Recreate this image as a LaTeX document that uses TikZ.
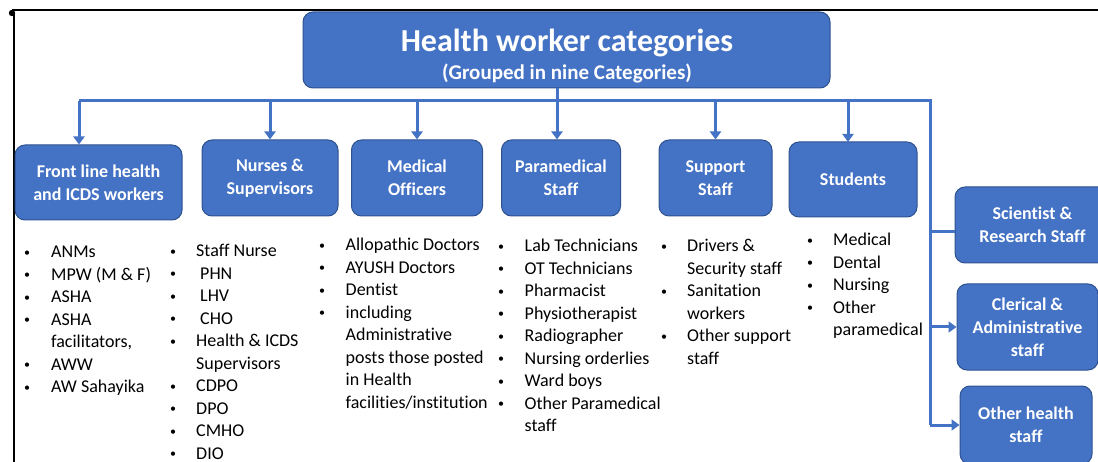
\documentclass[tikz,border=0pt]{standalone}
\usepackage{fontspec}
\setmainfont{Carlito}[Ligatures={NoCommon}]
\usetikzlibrary{arrows.meta}
\definecolor{boxblue}{HTML}{4472C4}
\definecolor{boxedge}{HTML}{2F528F}
\newcommand{\lst}[1]{\fontsize{18}{22.5}\selectfont\begin{tabular}{@{}p{#1}@{}l@{}}}
\newcommand{\bu}{{\fontsize{12}{12}\selectfont\raisebox{1.5pt}{•}}}
\begin{document}
\begin{tikzpicture}[x=1pt,y=-1pt,
  box/.style={draw=boxedge, line width=1pt, fill=boxblue, rounded corners=10pt, text=white,
    font=\bfseries\fontsize{18}{23}\selectfont, align=center, inner sep=0pt},
  conn/.style={draw=boxblue, line width=3pt},
  arr/.style={conn, -{Triangle[length=8pt,width=11pt]}},
  list/.style={anchor=north west, inner sep=0pt, text=black},
  frame/.style={draw=black, line width=2pt}]
\useasboundingbox (0,0) rectangle (1098,462);
% frame
\coordinate (fa) at (12,10);
\coordinate (fb) at (1098,10);
\coordinate (fc) at (14,12);
\coordinate (fd) at (14,462);
\draw[frame] (fa) -- (fb);
\draw[frame] (fc) -- (fd);
\fill[black] (12,13) circle (3.2pt);
% boxes
\node[box, minimum width=527pt, minimum height=76pt] (top) at (566.5,50) {};
\node[text=white, font=\bfseries, align=center, inner sep=0pt] (toptext) at (567,56)
  {\fontsize{32}{36}\selectfont Health worker categories\\[6pt]
   \fontsize{21}{24}\selectfont (Grouped in nine Categories)};
\node[box, minimum width=167pt, minimum height=75pt] (front) at (98.5,182.5) {Front line health\\and ICDS workers};
\node[box, minimum width=136pt, minimum height=76pt] (nurse) at (270,178) {Nurses \&\\Supervisors};
\node[box, minimum width=131pt, minimum height=76pt] (med) at (417,178) {Medical\\Officers};
\node[box, minimum width=119pt, minimum height=76pt] (para) at (561,178) {Paramedical\\Staff};
\node[box, minimum width=113pt, minimum height=76pt] (supp) at (715.5,178) {Support\\Staff};
\node[box, minimum width=128pt, minimum height=75pt] (stud) at (853,179.5) {Students};
\node[box, minimum width=155pt, minimum height=76pt] (sci) at (1032.5,225) {Scientist \&\\Research Staff};
\node[box, minimum width=141pt, minimum height=86pt] (cler) at (1027.5,327) {Clerical \&\\Administrative\\staff};
\node[box, minimum width=132pt, minimum height=78pt] (oth) at (1026,425) {Other health\\staff};
% connectors
\coordinate (busL) at (79,101);
\coordinate (bus) at (557,101);
\coordinate (busR) at (930,101);
\coordinate (j1) at (930,232);
\coordinate (j2) at (930,327);
\coordinate (j3) at (930,425);
\draw[conn] (top.south -| bus) -- (bus);
\draw[conn] (busL) -- (busR) -- (j3);
\draw[arr] (busL) -- (busL |- front.north);
\draw[arr] (nurse.north |- bus) -- (nurse.north);
\draw[arr] (med.north |- bus) -- (med.north);
\draw[arr] (bus) -- (bus |- para.north);
\draw[arr] (supp.north |- bus) -- (supp.north);
\draw[arr] (848,101) -- (848,142);
\draw[conn] (j1) -- (j1 -| sci.west);
\draw[arr] (j2) -- (j2 -| cler.west);
\draw[arr] (j3) -- (j3 -| oth.west);
% lists
\node[list] (l1) at (24,242) {\lst{27pt}
\bu&ANMs\\ \bu&MPW (M \& F)\\ \bu&ASHA\\ \bu&ASHA\\ &facilitators,\\ \bu&AWW\\ \bu&AW Sahayika\end{tabular}};
\node[list] (l2) at (170,241) {\lst{26pt}
\bu&Staff Nurse\\ \bu&\hspace{4pt}PHN\\ \bu&\hspace{4pt}LHV\\ \bu&\hspace{4pt}CHO\\ \bu&Health \& ICDS\\ &Supervisors\\ \bu&CDPO\\ \bu&DPO\\ \bu&CMHO\\ \bu&DIO\end{tabular}};
\node[list] (l3) at (319,235) {\lst{26.5pt}
\bu&Allopathic Doctors\\ \bu&AYUSH Doctors\\ \bu&Dentist\\ \bu&including\\ &Administrative\\ &posts those posted\\ &in Health\\ &facilities/institution\end{tabular}};
\node[list] (l4) at (498,236) {\lst{26.5pt}
\bu&Lab Technicians\\ \bu&OT Technicians\\ \bu&Pharmacist\\ \bu&Physiotherapist\\ \bu&Radiographer\\ \bu&Nursing orderlies\\ \bu&Ward boys\\ \bu&Other Paramedical\\ &staff\end{tabular}};
\node[list] (l5) at (661,236) {\lst{26pt}
\bu&Drivers \&\\ &Security staff\\ \bu&Sanitation\\ &workers\\ \bu&Other support\\ &staff\end{tabular}};
\node[list] (l6) at (807,230) {\lst{26pt}
\bu&Medical\\ \bu&Dental\\ \bu&Nursing\\ \bu&Other\\ &paramedical\end{tabular}};
\end{tikzpicture}
\end{document}
